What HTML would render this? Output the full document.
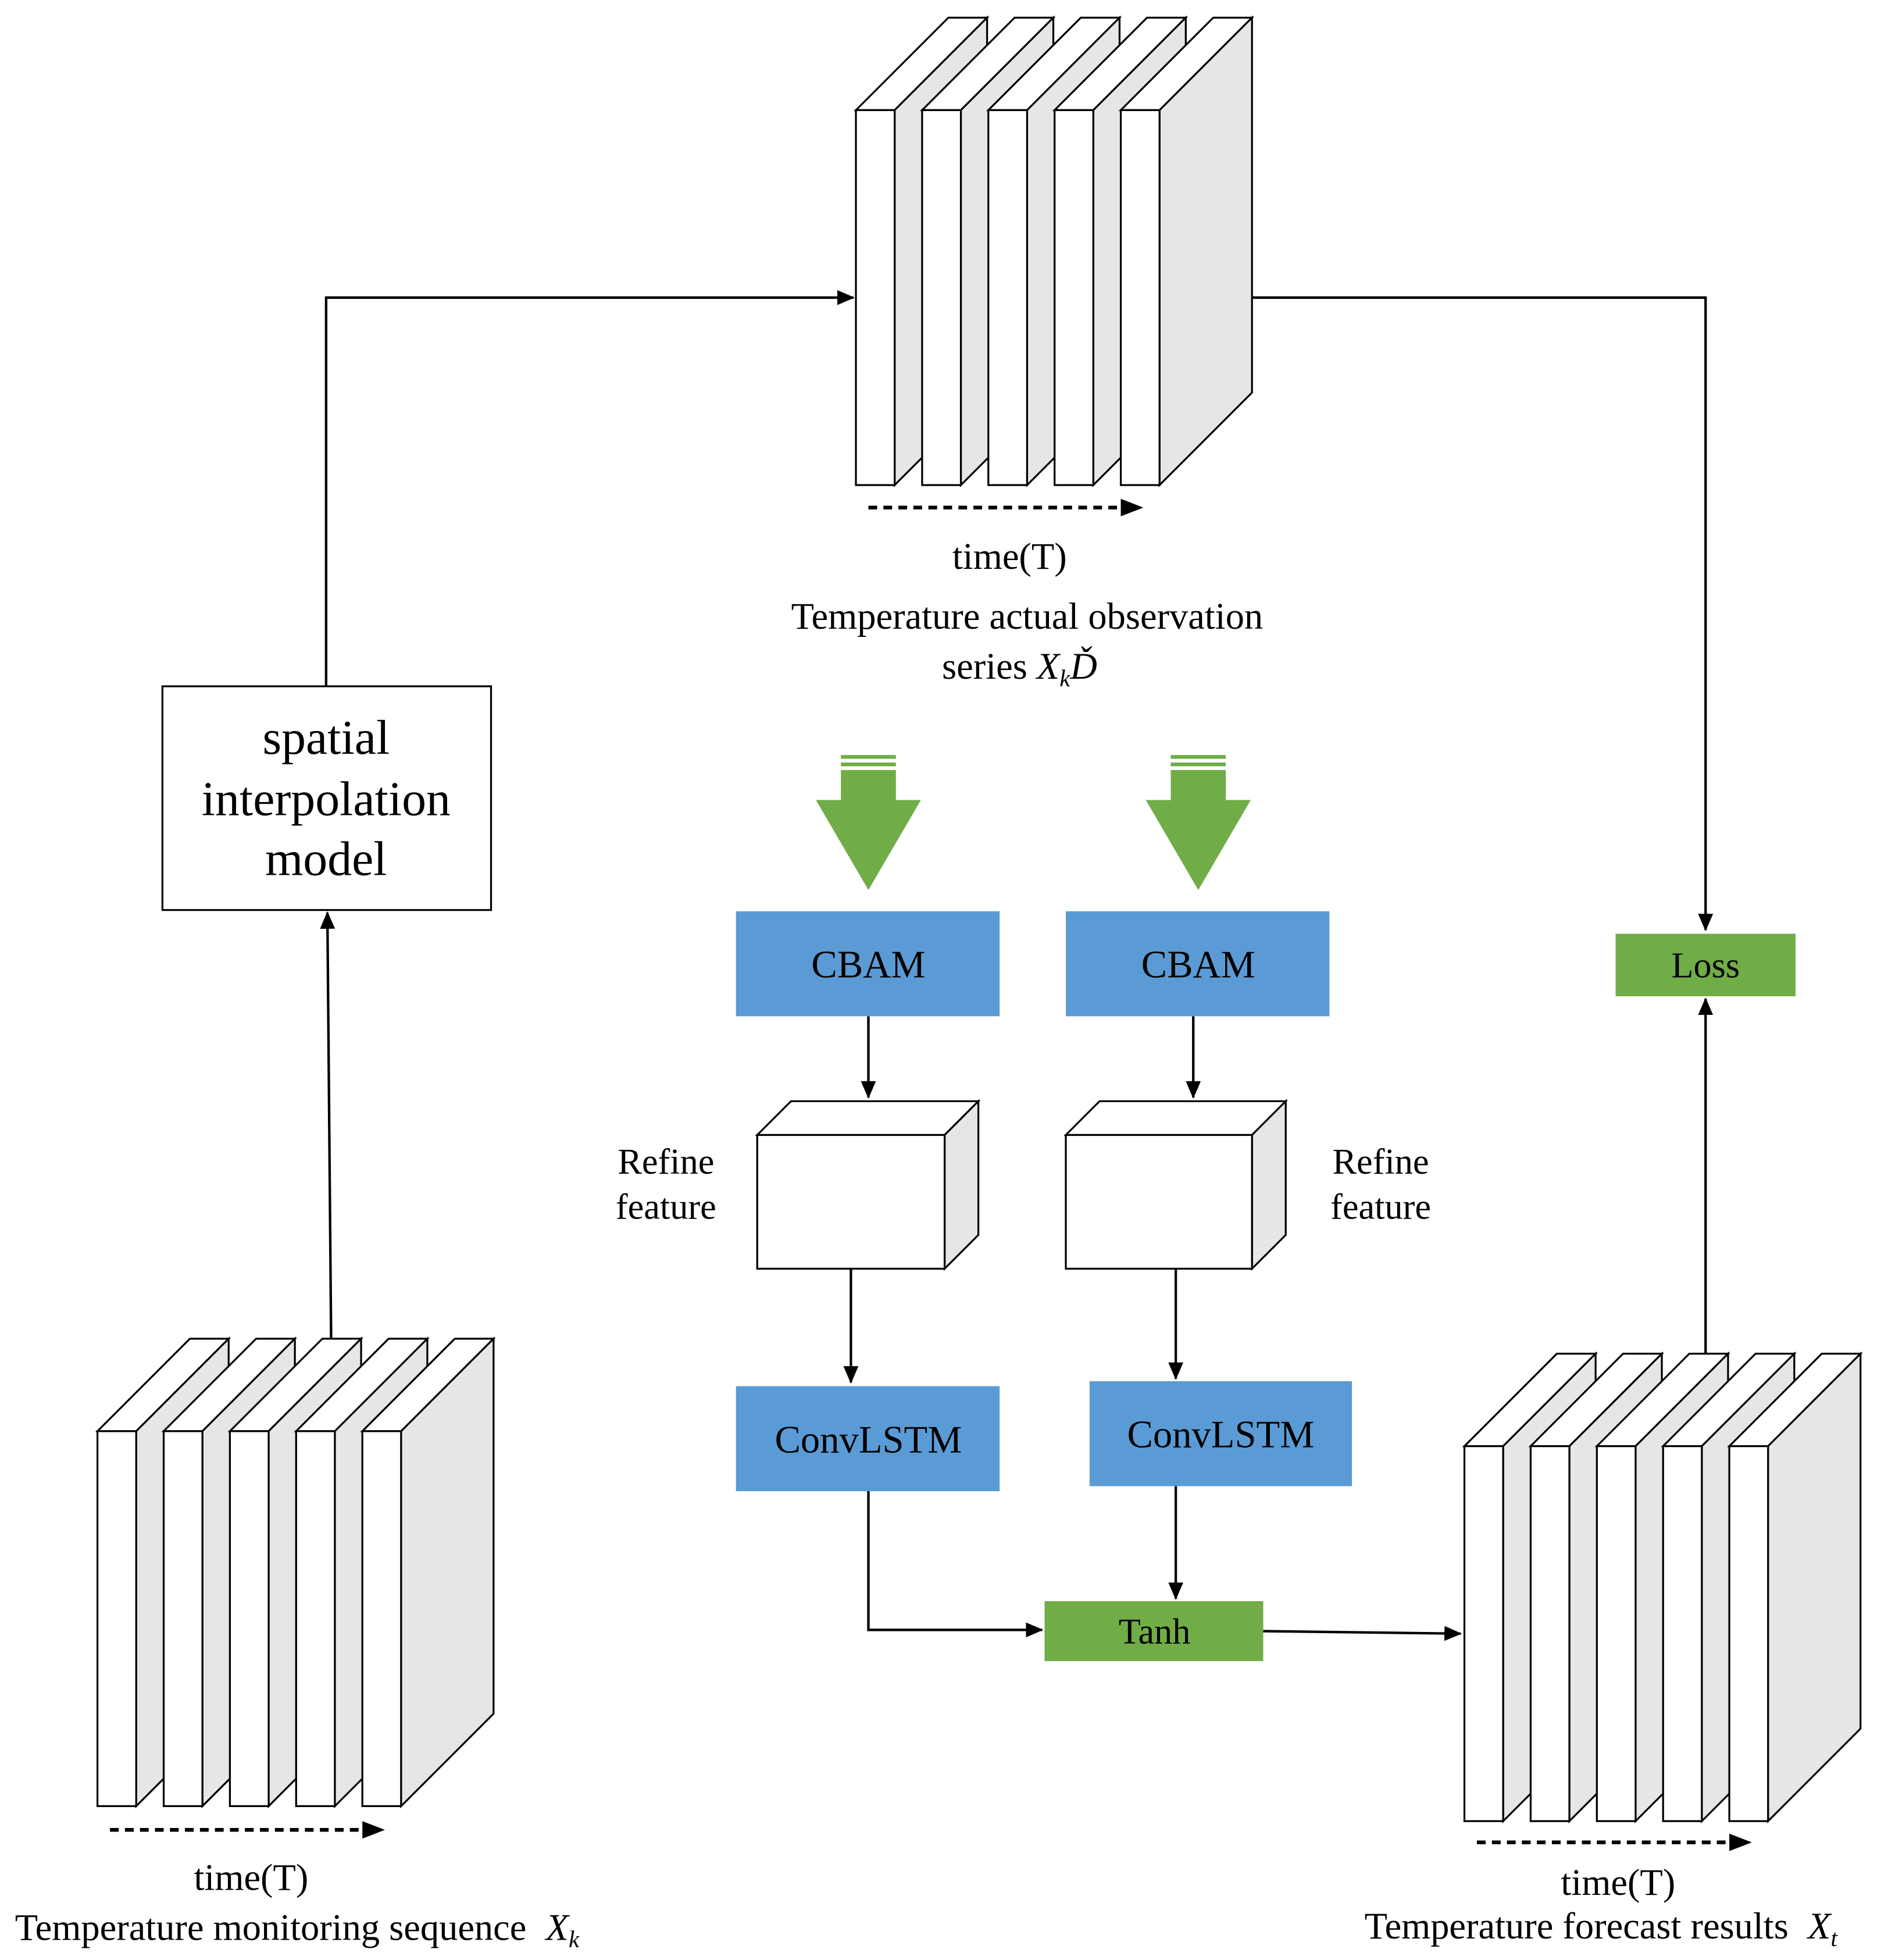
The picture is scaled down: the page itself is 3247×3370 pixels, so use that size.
<!DOCTYPE html>
<html><head><meta charset="utf-8"><style>
html,body{margin:0;padding:0;background:#fff}
svg{display:block}
text{font-family:"Liberation Serif",serif;fill:#000}
</style></head><body>
<svg width="3247" height="3370" viewBox="0 0 1511 1568" xmlns="http://www.w3.org/2000/svg">
<defs>
<marker id="ar2" markerWidth="14" markerHeight="12" refX="13" refY="6" orient="auto" markerUnits="userSpaceOnUse" viewBox="0 0 14 12">
<path d="M0,0 L14,6 L0,12 z" fill="#000"/></marker>
<g id="slab" stroke="#000" stroke-width="1.5" stroke-linejoin="miter">
<polygon points="0,74 74,0 105,0 31,74" fill="#fff"/>
<polygon points="31,74 105,0 105,300 31,374" fill="#e6e6e6"/>
<rect x="0" y="74" width="31" height="300" fill="#fff"/>
</g>
<g id="stack">
<use href="#slab" x="0"/><use href="#slab" x="53"/><use href="#slab" x="106"/><use href="#slab" x="159"/><use href="#slab" x="212"/>
</g>
<g id="garrow" fill="#70ad47">
<rect x="-22" y="0" width="44" height="3"/>
<rect x="-22" y="6" width="44" height="3"/>
<rect x="-22" y="12" width="44" height="26"/>
<polygon points="-42,36 42,36 0,108"/>
</g>
</defs>

<use href="#stack" x="685" y="14"/>
<use href="#stack" x="78" y="1071"/>
<use href="#stack" x="1172" y="1083"/>

<g stroke="#000" stroke-width="3" stroke-dasharray="7,5" fill="none">
<line x1="695" y1="406" x2="900" y2="406"/>
<line x1="88" y1="1464" x2="293" y2="1464"/>
<line x1="1182" y1="1474" x2="1387" y2="1474"/>
</g>
<polygon points="897,399 915,406 897,413" fill="#000"/>
<polygon points="290,1457 308,1464 290,1471" fill="#000"/>
<polygon points="1384,1467 1402,1474 1384,1481" fill="#000"/>

<rect x="130" y="549" width="263" height="179" fill="#fff" stroke="#000" stroke-width="1.5"/>
<g font-size="39" text-anchor="middle">
<text x="261" y="603">spatial</text>
<text x="261" y="652">interpolation</text>
<text x="261" y="700">model</text>
</g>

<g stroke="#000" stroke-width="2" fill="none">
<polyline points="261,549 261,238 683,238" marker-end="url(#ar2)"/>
<polyline points="1002,238 1365,238 1365,744" marker-end="url(#ar2)"/>
<line x1="1365" y1="1083" x2="1365" y2="799" marker-end="url(#ar2)"/>
<line x1="265" y1="1071" x2="262" y2="730" marker-end="url(#ar2)"/>
<line x1="695" y1="813" x2="695" y2="878" marker-end="url(#ar2)"/>
<line x1="955" y1="813" x2="955" y2="878" marker-end="url(#ar2)"/>
<line x1="681" y1="1015" x2="681" y2="1106" marker-end="url(#ar2)"/>
<line x1="941" y1="1015" x2="941" y2="1103" marker-end="url(#ar2)"/>
<polyline points="695,1193 695,1304 834,1304" marker-end="url(#ar2)"/>
<line x1="941" y1="1189" x2="941" y2="1279" marker-end="url(#ar2)"/>
<line x1="1011" y1="1305" x2="1169" y2="1307" marker-end="url(#ar2)"/>
</g>

<use href="#garrow" x="695" y="604"/>
<use href="#garrow" x="959" y="604"/>

<rect x="589" y="729" width="211" height="84" fill="#5b9bd5"/>
<rect x="853" y="729" width="211" height="84" fill="#5b9bd5"/>
<g font-size="31" text-anchor="middle">
<text x="695" y="782">CBAM</text>
<text x="959" y="782">CBAM</text>
</g>

<g stroke="#000" stroke-width="1.5">
<polygon points="606,908 633,881 783,881 756,908" fill="#fff"/>
<polygon points="756,908 783,881 783,988 756,1015" fill="#e6e6e6"/>
<rect x="606" y="908" width="150" height="107" fill="#fff"/>
<polygon points="853,908 880,881 1029,881 1002,908" fill="#fff"/>
<polygon points="1002,908 1029,881 1029,988 1002,1015" fill="#e6e6e6"/>
<rect x="853" y="908" width="149" height="107" fill="#fff"/>
</g>
<g font-size="29" text-anchor="middle">
<text x="533" y="939">Refine</text>
<text x="533" y="975">feature</text>
<text x="1105" y="939">Refine</text>
<text x="1105" y="975">feature</text>
</g>

<rect x="589" y="1109" width="211" height="84" fill="#5b9bd5"/>
<rect x="872" y="1105" width="210" height="84" fill="#5b9bd5"/>
<g font-size="31" text-anchor="middle">
<text x="695" y="1162">ConvLSTM</text>
<text x="977" y="1158">ConvLSTM</text>
</g>

<rect x="836" y="1281" width="175" height="48" fill="#70ad47"/>
<text x="924" y="1315" font-size="29" text-anchor="middle">Tanh</text>
<rect x="1293" y="747" width="144" height="50" fill="#70ad47"/>
<text x="1365" y="782" font-size="29" text-anchor="middle">Loss</text>

<g font-size="30" text-anchor="middle">
<text x="808" y="455">time(T)</text>
<text x="822" y="503">Temperature actual observation</text>
<text x="816" y="543">series <tspan font-style="italic">X</tspan><tspan font-style="italic" font-size="19" dy="6">k</tspan><tspan dy="-6" font-style="italic">Ď</tspan></text>
<text x="201" y="1512">time(T)</text>
<text x="1295" y="1516">time(T)</text>
</g>
<g font-size="30">
<text x="12" y="1552">Temperature monitoring sequence  <tspan dx="8" font-style="italic">X</tspan><tspan font-style="italic" font-size="19" dy="6">k</tspan></text>
<text x="1092" y="1551">Temperature forecast results  <tspan dx="8" font-style="italic">X</tspan><tspan font-style="italic" font-size="19" dy="6">t</tspan></text>
</g>
</svg>
</body></html>
